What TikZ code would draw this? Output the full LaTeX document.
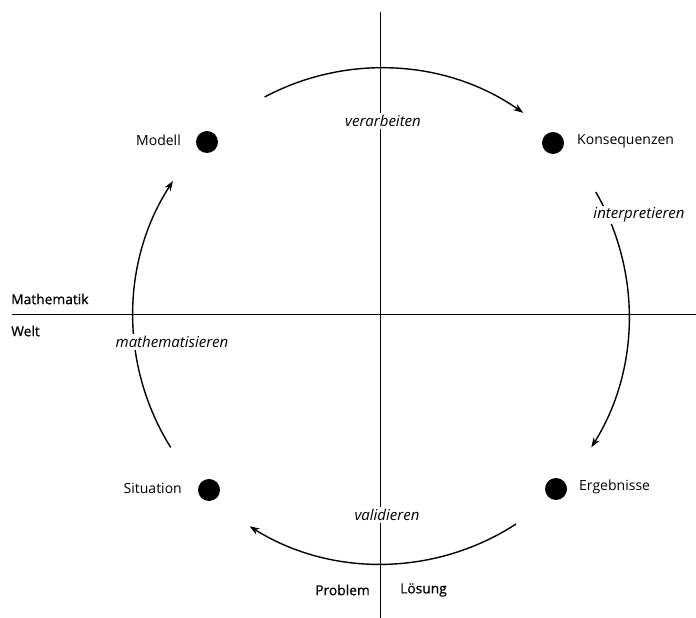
\documentclass[tikz,border=0pt]{standalone}
\usepackage{fontspec}
\setmainfont{Open Sans}
\newfontfamily\headfont[FakeBold=0.6]{Open Sans}
\usetikzlibrary{arrows.meta,calc}
\begin{document}
\begin{tikzpicture}[x=1pt,y=1pt,
  bigdot/.style={circle,fill=black,minimum size=22pt,inner sep=0pt},
  steplbl/.style={font=\fontsize{14}{16}\selectfont,inner sep=1pt},
  headlbl/.style={font=\headfont\fontsize{13.8}{16}\selectfont,inner sep=1pt},
  actlbl/.style={font=\itshape\fontsize{15}{17}\selectfont,fill=white,inner sep=2pt},
  axisline/.style={line width=1pt},
  cycarrow/.style={line width=1.4pt,-{Stealth[length=10pt,width=7pt]}}]
\useasboundingbox (0,0) rectangle (696,618);
\coordinate (C) at (381,302);
% axes
\coordinate (vt) at (380,606);
\coordinate (vb) at (380,0);
\coordinate (hl) at (12,303);
\coordinate (hr) at (696,303);
\draw[axisline] (vt) -- (vb);
\draw[axisline] (hl) -- (hr);
% dots and names
\node[bigdot] (modell) at (207,476) {};
\node[bigdot] (konseq) at (553,475) {};
\node[bigdot] (situation) at (209,128) {};
\node[bigdot] (ergebnisse) at (556,129) {};
\node[steplbl,anchor=east] (tmodell) at (182,478) {Modell};
\node[steplbl,anchor=west] (tkonseq) at (576,477) {Konsequenzen};
\node[steplbl,anchor=east] (tsituation) at (183,130) {Situation};
\node[steplbl,anchor=west] (tergebnisse) at (578,131) {Ergebnisse};
% arcs
\coordinate (a1) at ($(C)+(118:248)$);
\coordinate (a2) at ($(C)+(30:248)$);
\coordinate (a3) at ($(C)+(-57:248)$);
\coordinate (a4) at ($(C)+(212:248)$);
\draw[cycarrow] (a1) arc[start angle=118,end angle=55,radius=248];
\draw[cycarrow] (a2) arc[start angle=30,end angle=-32,radius=248];
\draw[cycarrow] (a3) arc[start angle=-57,end angle=-122,radius=248];
\draw[cycarrow] (a4) arc[start angle=212,end angle=147,radius=248];
% activity labels
\node[actlbl] (verarbeiten) at (383,497) {verarbeiten};
\node[actlbl] (interpretieren) at (639,403) {interpretieren};
\node[actlbl] (mathematisieren) at (172,276) {mathematisieren};
\node[actlbl] (validieren) at (387,103) {validieren};
% region labels
\node[headlbl,anchor=west] (mathe) at (10,319) {Mathematik};
\node[headlbl,anchor=west] (welt) at (10,287) {Welt};
\node[headlbl,anchor=east] (problem) at (371,28) {Problem};
\node[headlbl,anchor=west] (loesung) at (399,28) {Lösung};
\end{tikzpicture}
\end{document}
